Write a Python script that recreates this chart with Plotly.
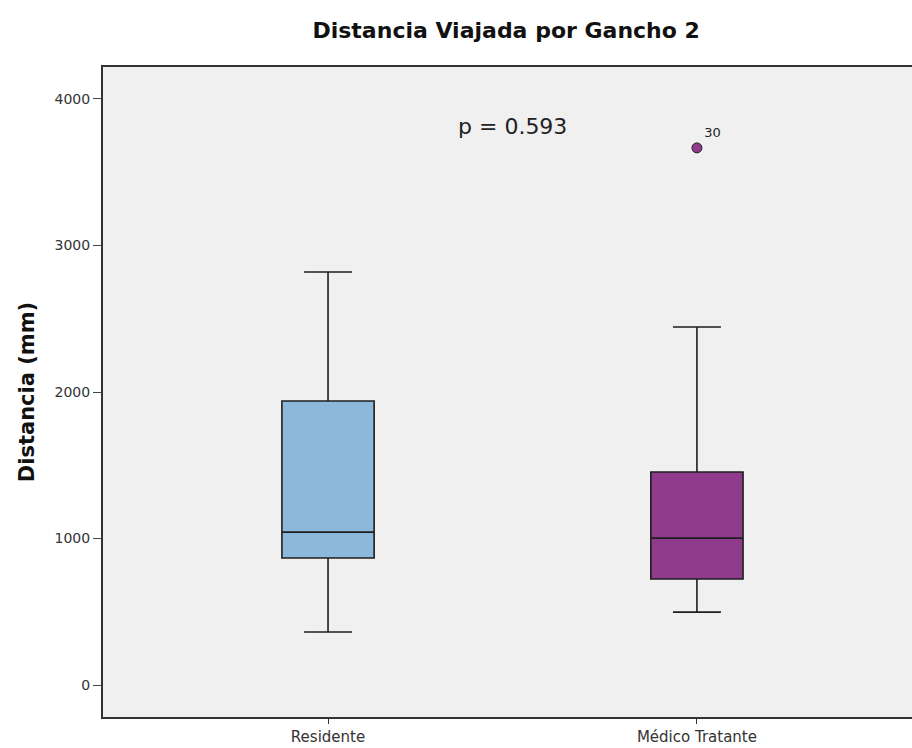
import plotly.graph_objects as go

# Summary statistics of the distance travelled (mm) per group
groups = ["Residente", "Médico Tratante"]
lower_whisker = [362, 498]
q1_values = [867, 724]
medians = [1044, 1003]
q3_values = [1939, 1454]
upper_whisker = [2819, 2444]
box_colors = ["#8cb8dc", "#8e3b8c"]

# Outlying case
outlier_group = ["Médico Tratante"]
outlier_value = [3666]
outlier_case = ["30"]

y_ticks = [0, 1000, 2000, 3000, 4000]

FONT = "DejaVu Sans, sans-serif"

fig = go.Figure()

for i, g in enumerate(groups):
    fig.add_trace(go.Box(
        x=[g],
        q1=[q1_values[i]],
        median=[medians[i]],
        q3=[q3_values[i]],
        lowerfence=[lower_whisker[i]],
        upperfence=[upper_whisker[i]],
        fillcolor=box_colors[i],
        line=dict(color="#1e1e1e", width=1.6),
        width=0.25,
        whiskerwidth=0.52,
        boxpoints=False,
        showlegend=False,
        hoverinfo="skip",
    ))

fig.add_trace(go.Scatter(
    x=outlier_group,
    y=outlier_value,
    mode="markers+text",
    text=outlier_case,
    textposition="top right",
    textfont=dict(family=FONT, size=13, color="#222"),
    marker=dict(color="#8e3b8c", size=10, line=dict(color="#2a1a2a", width=1)),
    showlegend=False,
    hoverinfo="skip",
))

fig.add_annotation(
    x=0.5, y=3809, xref="x", yref="y",
    text="p = 0.593",
    showarrow=False,
    font=dict(family=FONT, size=22, color="#222"),
)

fig.update_layout(
    width=912,
    height=748,
    margin=dict(l=103, r=0, t=67, b=31),
    paper_bgcolor="white",
    plot_bgcolor="#f0f0f0",
    title=dict(
        text="<b>Distancia Viajada por Gancho 2</b>",
        x=0.555, xanchor="center",
        y=0.96, yanchor="middle",
        font=dict(family=FONT, size=22, color="#111"),
    ),
    xaxis=dict(
        type="category",
        categoryorder="array",
        categoryarray=groups,
        range=[-0.61, 1.583],
        showline=True, linecolor="#333", linewidth=2, mirror=True,
        ticks="outside", ticklen=5, tickcolor="#333",
        showgrid=False, zeroline=False,
        tickfont=dict(family=FONT, size=15, color="#333"),
    ),
    yaxis=dict(
        range=[-218, 4218],
        tickvals=y_ticks,
        showline=True, linecolor="#333", linewidth=2, mirror=False,
        ticks="outside", ticklen=8, tickcolor="#444",
        showgrid=False, zeroline=False,
        tickfont=dict(family=FONT, size=14, color="#333"),
        title=dict(
            text="<b>Distancia (mm)</b>",
            font=dict(family=FONT, size=21, color="#111"),
            standoff=14,
        ),
    ),
)

fig.write_html("out.html")
